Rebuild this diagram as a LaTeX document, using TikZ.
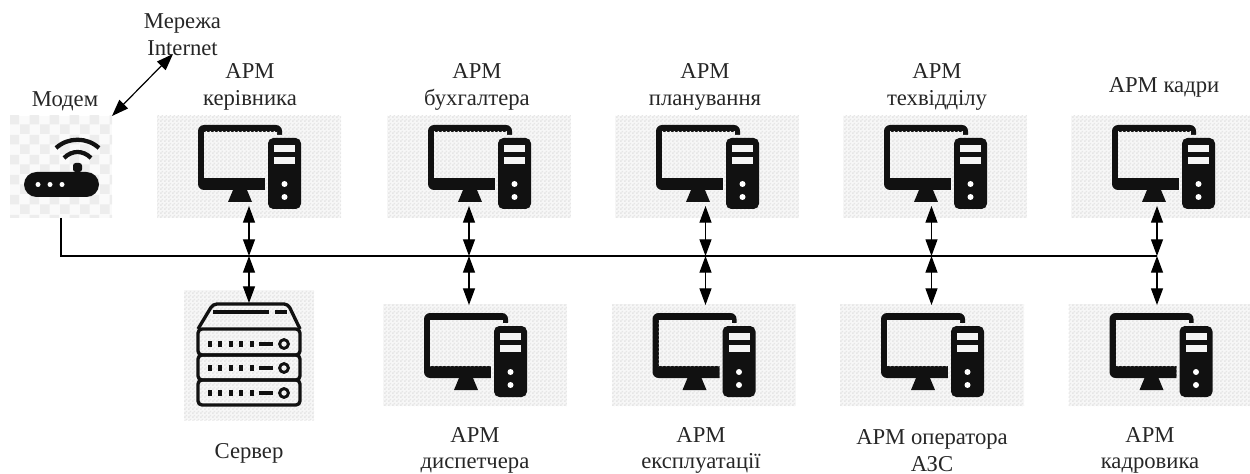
\documentclass[tikz,border=0pt]{standalone}
\usepackage{fontspec}
\setmainfont{Liberation Serif}
\usetikzlibrary{patterns,arrows.meta}
\pgfdeclarepatternformonly{finechk}{\pgfpointorigin}{\pgfqpoint{3pt}{3pt}}{\pgfqpoint{3pt}{3pt}}{%
  \pgfpathrectangle{\pgfpointorigin}{\pgfqpoint{1.5pt}{1.5pt}}%
  \pgfpathrectangle{\pgfqpoint{1.5pt}{1.5pt}}{\pgfqpoint{1.5pt}{1.5pt}}\pgfusepath{fill}}
\pgfdeclarepatternformonly{widechk}{\pgfpointorigin}{\pgfqpoint{15pt}{15pt}}{\pgfqpoint{15pt}{15pt}}{%
  \pgfpathrectangle{\pgfpointorigin}{\pgfqpoint{7.5pt}{7.5pt}}%
  \pgfpathrectangle{\pgfqpoint{7.5pt}{7.5pt}}{\pgfqpoint{7.5pt}{7.5pt}}\pgfusepath{fill}}
\definecolor{icon}{HTML}{111111}
\definecolor{chk}{HTML}{E6E6E6}
\definecolor{chkb}{HTML}{EDEDED}
\definecolor{chkbase}{HTML}{F7F7F7}
\tikzset{
  dither/.style={preaction={fill=chkbase},pattern=finechk,pattern color=chk},
  panel/.style={minimum width=138pt,minimum height=76.5pt,inner sep=0pt,outer sep=0pt,anchor=north west,dither},
  srvpanel/.style={panel,minimum width=97.5pt,minimum height=97.5pt},
  modempanel/.style={minimum width=76.5pt,minimum height=76.5pt,inner sep=0pt,outer sep=0pt,anchor=north west,
    preaction={fill=chkbase!60!white},pattern=widechk,pattern color=chkb},
  lbl/.style={align=center,font=\fontsize{17}{20}\selectfont,text=black!85,inner sep=0pt},
  link/.style={line width=0.9pt,{Triangle[length=12.5pt,width=9pt]}-{Triangle[length=12.5pt,width=9pt]},black},
  bus/.style={line width=0.9pt,black},
  pc/.pic={
    \fill[icon,rounded corners=4.5pt] (41,9) rectangle (125,74);
    \path[dither] (47,16) rectangle (120,62);
    \fill[icon] (76,74) -- (90,74) -- (95,86) -- (71,86) -- cycle;
    \path[dither,rounded corners=4pt] (108,19) rectangle (147,96);
    \fill[icon,rounded corners=4pt] (111,22) rectangle (144,93);
    \fill[white!92!gray] (117,29) rectangle (138,36);
    \fill[white!92!gray] (117,41) rectangle (138,48);
    \fill[white] (127.5,68) circle (3);
    \fill[white] (127.5,81) circle (3);
  }
}
\begin{document}
\begin{tikzpicture}[x=0.75pt,y=-0.75pt]
\useasboundingbox (0,0) rectangle (1250,474);
% panels
\node[modempanel] (modem) at (10,116) {};
\node[panel] (a1) at (157,116) {};
\node[panel] (a2) at (387,116) {};
\node[panel] (a3) at (615,116) {};
\node[panel] (a4) at (843,116) {};
\node[panel] (a5) at (1071,116) {};
\node[srvpanel] (srv) at (184,290) {};
\node[panel] (b2) at (383,304) {};
\node[panel] (b3) at (611.5,304) {};
\node[panel] (b4) at (840,304) {};
\node[panel] (b5) at (1068.5,304) {};
% icons
\pic at (157,116) {pc};
\pic at (387,116) {pc};
\pic at (615,116) {pc};
\pic at (843,116) {pc};
\pic at (1071,116) {pc};
\pic at (383,304) {pc};
\pic at (611.5,304) {pc};
\pic at (840,304) {pc};
\pic at (1068.5,304) {pc};
% modem icon
\fill[icon,rounded corners=9.4pt] (24,172) rectangle (99,197);
\fill[white] (38,184.5) circle (2.5) (50,184.5) circle (2.5) (62,184.5) circle (2.5);
\fill[icon,rounded corners=2pt] (73,163) rectangle (82,172);
\draw[icon,line width=3.2pt] (56,148) .. controls (68,137) and (87,137) .. (99,148);
\draw[icon,line width=3.2pt] (64,158) .. controls (72,150) and (83,150) .. (91,158);
% server icon
\begin{scope}[icon,line width=2.5pt,line join=round]
  \draw[rounded corners=3pt] (198,329) -- (213,304) -- (288,304) -- (300,329);
  \draw[rounded corners=3pt] (198,329) rectangle (300,355);
  \draw[rounded corners=3pt] (198,355) rectangle (300,380);
  \draw[rounded corners=3pt] (198,380) rectangle (300,405);
  \draw (213,312) -- (269,312);
  \draw (275,312) -- (287,312);
  \foreach \yy in {344,368,393}{
    \foreach \xx in {210,220,231,241,252}{\draw[line width=3pt] (\xx,\yy-3) -- (\xx,\yy+3);}
    \draw (259,\yy) -- (273,\yy);
    \draw[line width=2.2pt] (284,\yy) circle (4.4);
  }
\end{scope}
% connectors
\coordinate (inet) at (173,54);
\coordinate (bus5) at (1157,256);
\foreach \nm/\xx in {1/249,2/469,3/705.5,4/931.5,5/1157}{
  \coordinate (t\nm) at (\xx,206);
  \coordinate (j\nm) at (\xx,256);
}
\foreach \nm/\xx/\yy in {1/249/303,2/469/305,3/705.5/305,4/931.5/305,5/1157/305}{
  \coordinate (u\nm) at (\xx,\yy);
}
\coordinate (modemtip) at (112,116);
\coordinate (modemout) at (61,218);
\draw[bus] (modemout) |- (bus5);
\draw[link] (modemtip) -- (inet);
\foreach \nm in {1,2,3,4,5}{
  \draw[link] (t\nm) -- (j\nm);
  \draw[link] (j\nm) -- (u\nm);
}
% labels
\node[lbl] (lm) at (182.5,34.5) {Мережа\\Internet};
\node[lbl] (l0) at (65,101) {Модем};
\node[lbl] (l1) at (250,87) {АРМ\\керівника};
\node[lbl] (l2) at (477,87) {АРМ\\бухгалтера};
\node[lbl] (l3) at (705,87) {АРМ\\планування};
\node[lbl] (l4) at (937,87) {АРМ\\техвідділу};
\node[lbl] (l5) at (1164,87) {АРМ кадри};
\node[lbl] (s) at (249,453) {Сервер};
\node[lbl] (l6) at (475,450.5) {АРМ\\диспетчера};
\node[lbl] (l7) at (701,450.5) {АРМ\\експлуатації};
\node[lbl] (l8) at (932,450.5) {АРМ оператора\\АЗС};
\node[lbl] (l9) at (1150,450.5) {АРМ\\кадровика};
\end{tikzpicture}
\end{document}
